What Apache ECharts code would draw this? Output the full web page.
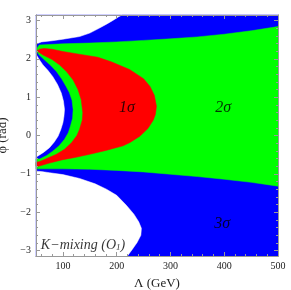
<!DOCTYPE html>
<html><head><meta charset="utf-8">
<script src="https://cdn.jsdelivr.net/npm/echarts@6/dist/echarts.min.js"></script>
<style>html,body{margin:0;padding:0;background:#fff}#c{width:291px;height:290px}</style>
</head><body><div id="c"></div>
<script>
// Tick labels
const xMajor = [100, 200, 300, 400, 500];
const yMajor = [-3, -2, -1, 0, 1, 2, 3];
const xMinor = [60, 80, 120, 140, 160, 180, 220, 240, 260, 280, 320, 340, 360, 380, 420, 440, 460, 480];
const yMinor = [-2.8,-2.6,-2.4,-2.2,-1.8,-1.6,-1.4,-1.2,-0.8,-0.6,-0.4,-0.2,0.2,0.4,0.6,0.8,1.2,1.4,1.6,1.8,2.2,2.4,2.6,2.8];
const PI = 3.1416;

// 3 sigma (blue) region: whole plane, white areas are cut out afterwards
const region3sigma = [[50, -PI], [500, -PI], [500, PI], [50, PI]];

// 2 sigma (green) region boundary (Lambda GeV, phi rad)
const region2sigma = [
  [52, 2.28], [56, 2.36], [100, 2.39], [150, 2.41], [200, 2.44], [250, 2.48], [300, 2.52],
  [350, 2.57], [400, 2.64], [450, 2.73], [500, 2.84],
  [500, -1.32], [450, -1.22], [400, -1.14], [350, -1.07], [300, -1.01], [250, -0.95],
  [200, -0.91], [150, -0.88], [100, -0.87], [50, -0.87],
  [50, -0.61], [57, -0.61], [70, -0.52], [81, -0.41], [93, -0.27], [103, -0.10], [110, 0.07],
  [114, 0.24], [118, 0.45], [119, 0.68], [117, 0.92], [112, 1.12], [106, 1.28], [98, 1.47],
  [88, 1.67], [77, 1.83], [66, 1.97], [56, 2.10], [52, 2.18]
];

// 1 sigma (red) region boundary
const region1sigma = [
  [52, 2.20], [56, 2.25], [65, 2.27], [80, 2.25], [100, 2.19], [130, 2.12], [165, 2.04],
  [190, 1.92], [224, 1.72], [250, 1.48], [262, 1.28], [270, 1.05], [274, 0.76], [272, 0.55],
  [268, 0.40], [258, 0.18], [243, -0.02], [225, -0.18], [212, -0.27], [180, -0.39],
  [150, -0.49], [120, -0.58], [100, -0.63], [75, -0.72], [55, -0.80], [50, -0.80],
  [50, -0.70], [57, -0.68], [70, -0.60], [88, -0.49], [103, -0.36], [116, -0.19], [126, 0.0],
  [131, 0.16], [136, 0.40], [137, 0.59], [134, 0.94], [128, 1.20], [119, 1.45], [107, 1.66],
  [94, 1.84], [80, 1.98], [63, 2.10], [52, 2.20]
];

// excluded (white) regions
const excludedTop = [
  [50, PI], [50, 2.38], [55, 2.41], [60, 2.44], [80, 2.47], [100, 2.51], [131, 2.58],
  [150, 2.67], [168, 2.80], [182, 2.91], [193, 3.00], [203, 3.09], [210, PI]
];
const excludedLeft = [
  [50, 2.12], [56, 1.98], [63, 1.84], [72, 1.70], [81, 1.54], [90, 1.33], [97, 1.11],
  [101, 0.90], [103, 0.68], [102, 0.50], [100, 0.33], [96, 0.15], [91, -0.02], [84, -0.17],
  [75, -0.32], [64, -0.44], [53, -0.54], [50, -0.56]
];
const excludedBottom = [
  [50, -0.93], [60, -0.94], [75, -0.97], [100, -1.02], [131, -1.12], [160, -1.26],
  [181, -1.40], [200, -1.56], [218, -1.82], [232, -2.05], [241, -2.25], [246, -2.42],
  [245, -2.60], [238, -2.79], [229, -2.97], [220, -PI], [50, -PI]
];

// annotations
const annotText = ['1σ', '2σ', '3σ'];
const annotPos = [[219, 0.73], [398, 0.73], [396, -2.31]];
const titleText = 'K−mixing (O';
const titleSub = '1';
const titlePos = [59, -2.83];

const SERIF = 'Liberation Serif, Times New Roman, serif';
const FRAME = '#999999';

function poly(data, color) {
  return {
    type: 'custom', xAxisIndex: 0, yAxisIndex: 0, data: data, silent: true,
    encode: { x: 0, y: 1 },
    renderItem: function (params, api) {
      if (params.dataIndex !== 0) return null;
      const pts = data.map(p => api.coord(p));
      return { type: 'polygon', shape: { points: pts }, style: { fill: color, stroke: color, lineWidth: 0.5 } };
    }
  };
}

function xAx(pos, vals, len, labels, name) {
  return {
    type: 'value', min: 50, max: 500, position: pos, z: 10,
    axisLine: { show: true, onZero: false, lineStyle: { color: FRAME, width: 1 } },
    axisTick: { show: true, inside: true, length: len, customValues: vals, lineStyle: { color: FRAME } },
    axisLabel: labels ? { show: true, customValues: vals, color: '#222', fontFamily: SERIF, fontSize: 10, margin: 5 } : { show: false },
    splitLine: { show: false },
    name: name || '', nameLocation: 'middle', nameGap: 21,
    nameTextStyle: { color: '#222', fontFamily: SERIF, fontSize: 13 }
  };
}
function yAx(pos, vals, len, labels, name) {
  return {
    type: 'value', min: -PI, max: PI, position: pos, z: 10,
    axisLine: { show: true, onZero: false, lineStyle: { color: FRAME, width: 1 } },
    axisTick: { show: true, inside: true, length: len, customValues: vals, lineStyle: { color: FRAME } },
    axisLabel: labels ? { show: true, customValues: vals, color: '#222', fontFamily: SERIF, fontSize: 10, margin: 5,
      formatter: v => (v < 0 ? '−' : '') + Math.abs(v) } : { show: false },
    splitLine: { show: false },
    name: name || '', nameLocation: 'middle', nameGap: 21, nameRotate: 90,
    nameTextStyle: { color: '#222', fontFamily: SERIF, fontSize: 13 }
  };
}

const chart = echarts.init(document.getElementById('c'), null, { renderer: 'canvas' });
chart.setOption({
  animation: false,
  backgroundColor: '#fff',
  grid: { left: 36, right: 13, top: 15, bottom: 34, show: false, containLabel: false, outerBoundsMode: 'none' },
  xAxis: [
    xAx('bottom', xMajor, 4, true, 'Λ (GeV)'),
    xAx('bottom', xMinor, 2, false),
    xAx('top', xMajor, 4, false),
    xAx('top', xMinor, 2, false)
  ],
  yAxis: [
    yAx('left', yMajor, 4, true, 'φ (rad)'),
    yAx('left', yMinor, 2, false),
    yAx('right', yMajor, 4, false),
    yAx('right', yMinor, 2, false)
  ],
  series: [
    poly(region3sigma, '#0000ff'),
    poly(region2sigma, '#00ff00'),
    poly(region1sigma, '#ff0000'),
    poly(excludedTop, '#ffffff'),
    poly(excludedLeft, '#ffffff'),
    poly(excludedBottom, '#ffffff'),
    {
      type: 'scatter', xAxisIndex: 0, yAxisIndex: 0, symbolSize: 0, silent: true, z: 20,
      data: annotPos.map((p, i) => ({ value: p, name: annotText[i] })),
      label: { show: true, position: 'inside', formatter: '{b}', color: '#000',
        fontFamily: SERIF, fontStyle: 'italic', fontSize: 16 }
    },
    {
      type: 'scatter', xAxisIndex: 0, yAxisIndex: 0, symbolSize: 0, silent: true, z: 20,
      data: [{ value: titlePos }],
      label: { show: true, position: 'right', distance: 0,
        formatter: '{a|' + titleText + '}{s|' + titleSub + '}{a|)}',
        rich: {
          a: { fontFamily: SERIF, fontStyle: 'italic', fontSize: 14, color: '#000', lineHeight: 16, verticalAlign: 'bottom' },
          s: { fontFamily: SERIF, fontStyle: 'italic', fontSize: 9, color: '#000', lineHeight: 12, verticalAlign: 'bottom' }
        } }
    }
  ]
});
</script></body></html>
